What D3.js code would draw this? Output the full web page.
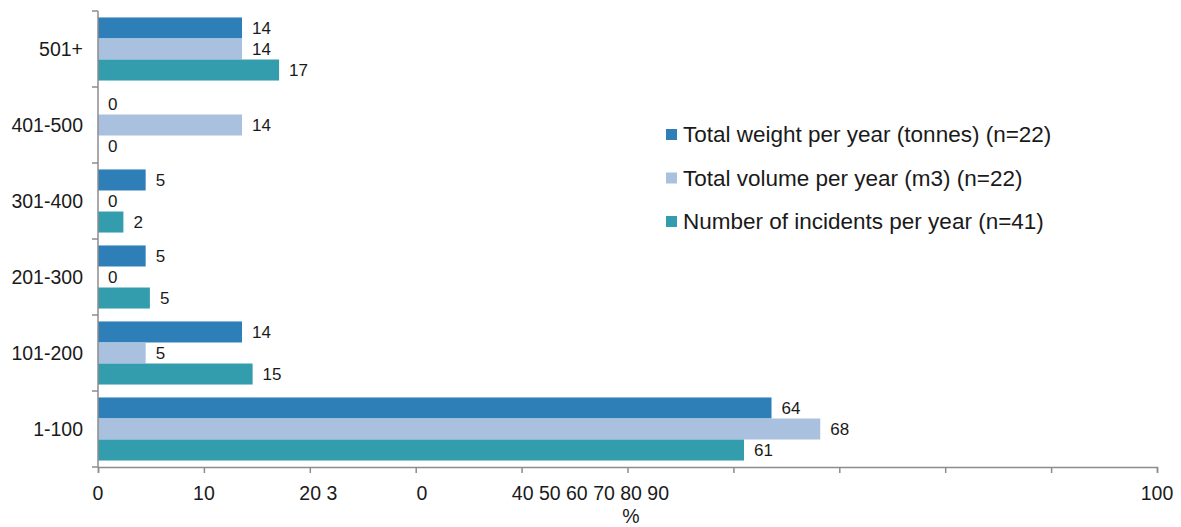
<!DOCTYPE html>
<html><head><meta charset="utf-8">
<script src="https://cdn.jsdelivr.net/npm/d3@7"></script>
<style>body{margin:0;background:#fff;} text{font-family:"Liberation Sans",Arial,sans-serif;fill:#1a1a1a;}</style>
</head><body><svg id="c" width="1181" height="527"></svg>
<script>
const categories = ["501+", "401-500", "301-400", "201-300", "101-200", "1-100"];
const seriesNames = ["Total weight per year (tonnes) (n=22)", "Total volume per year (m3) (n=22)", "Number of incidents per year (n=41)"];
const weight = [13.6, 0, 4.5, 4.5, 13.6, 63.6];
const volume = [13.6, 13.6, 0, 0, 4.5, 68.2];
const incidents = [17.1, 0, 2.4, 4.9, 14.6, 61.0];
const colors = ["#2E7EB8", "#A9C0DF", "#339DAD"];
const tickValues = [0,10,20,30,40,50,60,70,80,90,100];
const tickLabelText = ["0", "10", "20 3", "0", "40 50 60 70 80 90", "100"];
const tickLabelAt = [0, 10, 20.8, 30.6, 46.5, 100];

const svg = d3.select("#c");
const plotTop = 11, plotBottom = 467;
const x = d3.scaleLinear().domain([0,100]).range([98,1157]);
const y = d3.scaleBand().domain(categories).range([plotTop,plotBottom]).paddingInner(0.17).paddingOuter(0.085);
const keys = ["w","v","i"];
const yi = d3.scaleBand().domain(keys).range([0,y.bandwidth()]);
const data = categories.map((c,k)=>({cat:c, vals:[weight[k],volume[k],incidents[k]]}));

const g = svg.selectAll("g.cat").data(data).join("g").attr("transform",d=>`translate(0,${y(d.cat)})`);
g.selectAll("rect").data(d=>d.vals.map((v,j)=>({v,j}))).join("rect")
  .attr("x",x(0)).attr("y",d=>yi(keys[d.j])).attr("height",yi.bandwidth())
  .attr("width",d=>x(d.v)-x(0)).attr("fill",d=>colors[d.j]);
g.selectAll("text.val").data(d=>d.vals.map((v,j)=>({v,j}))).join("text").attr("class","val")
  .attr("x",d=>x(d.v)+10).attr("y",d=>yi(keys[d.j])+yi.bandwidth()/2).attr("dy","0.36em")
  .attr("font-size",17).text(d=>Math.round(d.v));

// y axis
const yAxisBands = d3.scaleLinear().domain([0,6]).range([plotTop,plotBottom]);
svg.append("line").attr("x1",98).attr("x2",98).attr("y1",plotTop).attr("y2",plotBottom).attr("stroke","#8c8c8c").attr("stroke-width",1.5);
svg.selectAll("line.yt").data(d3.range(7)).join("line").attr("class","yt")
  .attr("x1",92).attr("x2",98).attr("y1",d=>yAxisBands(d)).attr("y2",d=>yAxisBands(d)).attr("stroke","#8c8c8c").attr("stroke-width",1.5);
svg.selectAll("text.cat").data(categories).join("text").attr("class","cat")
  .attr("x",83).attr("y",d=>y(d)+y.bandwidth()/2).attr("dy","0.36em").attr("text-anchor","end").attr("font-size",19.5).text(d=>d);

// x axis
const xa = svg.append("g").attr("transform",`translate(0,${plotBottom})`)
  .call(d3.axisBottom(x).tickValues(tickValues).tickSize(6).tickFormat(""));
xa.select(".domain").attr("stroke","#8c8c8c").attr("stroke-width",1.5);
xa.selectAll(".tick line").attr("stroke","#8c8c8c").attr("stroke-width",1.5);
svg.selectAll("text.xt").data(tickLabelText).join("text").attr("class","xt")
  .attr("x",(d,i)=>x(tickLabelAt[i])).attr("y",500).attr("text-anchor","middle").attr("font-size",19.5).text(d=>d);
svg.append("text").attr("x",631).attr("y",523).attr("text-anchor","middle").attr("font-size",19.5).text("%");

// legend
const lg = svg.selectAll("g.lg").data(seriesNames).join("g").attr("class","lg")
  .attr("transform",(d,i)=>`translate(666,${134+i*43.5})`);
lg.append("rect").attr("x",0).attr("y",-5).attr("width",11).attr("height",11).attr("fill",(d,i)=>colors[i]);
lg.append("text").attr("x",17).attr("y",0).attr("dy","0.36em").attr("font-size",22.5).text(d=>d);
</script></body></html>
